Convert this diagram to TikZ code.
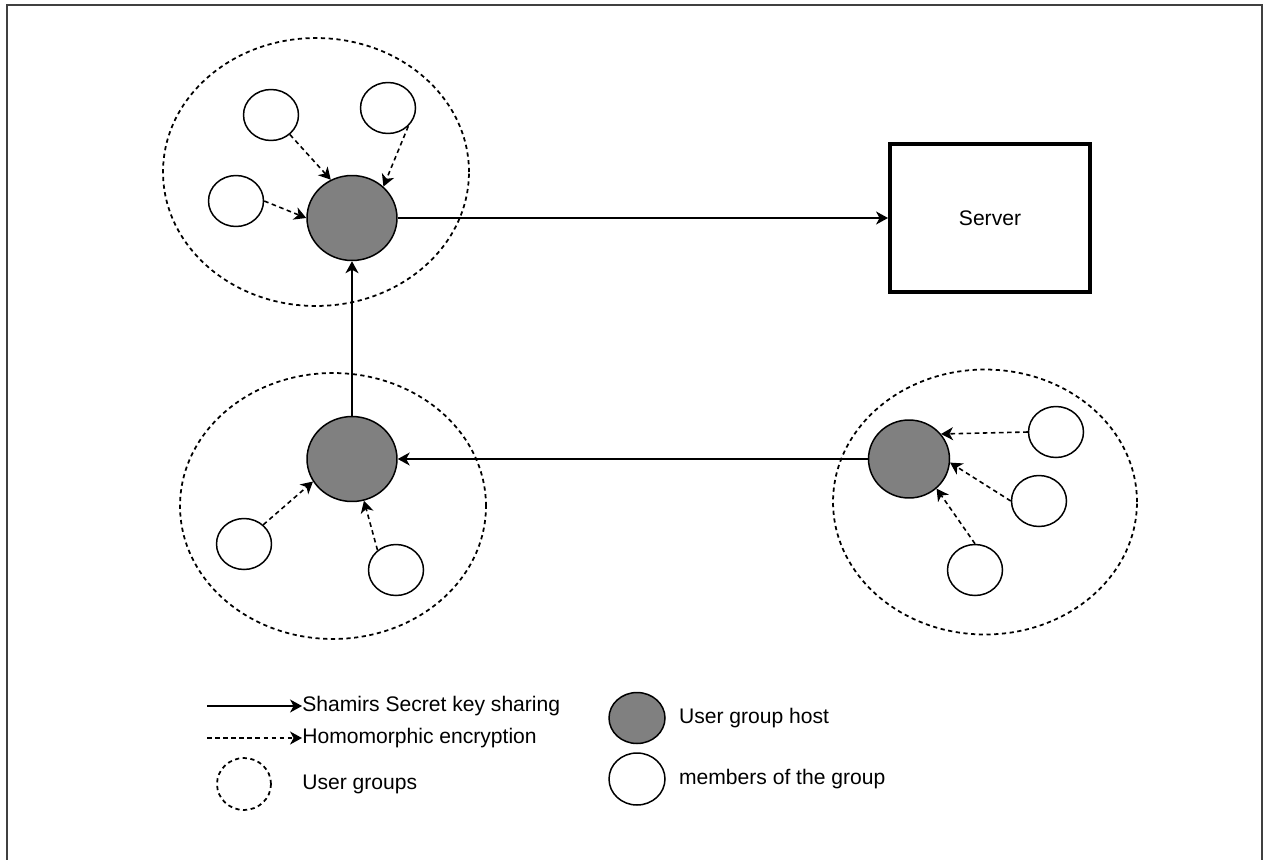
\documentclass[tikz,border=0pt]{standalone}
\usepackage{fontspec}
\setmainfont{Liberation Sans}
\usetikzlibrary{shapes.geometric,arrows.meta,positioning}

\definecolor{hostgray}{HTML}{808080}

\tikzset{
  host/.style={ellipse, draw, line width=0.85pt, fill=hostgray, minimum width=1.8cm, minimum height=1.7cm},
  member/.style={ellipse, draw, line width=0.85pt, fill=white, minimum width=1.1cm, minimum height=1.02cm},
  group/.style={ellipse, draw, line width=1pt, dash pattern=on 2.4pt off 2pt},
  server/.style={rectangle, draw, line width=2.3pt, minimum width=4.0cm, minimum height=2.96cm},
  shamir/.style={-{Stealth[length=6.8pt, width=7.4pt, inset=2pt]}, line width=0.9pt},
  homo/.style={shamir, dash pattern=on 2.6pt off 2pt},
  legendtext/.style={font=\fontsize{12pt}{14pt}\selectfont, inner sep=0pt, anchor=west}
}

\begin{document}
\begin{tikzpicture}[x=0.02cm, y=-0.02cm]
    \useasboundingbox (0,0) rectangle (1264,859);
    \draw[line width=1.2pt, draw=black!75] (7,5) rectangle (1262,880);

    % user groups
    \node[group, minimum width=6.12cm, minimum height=5.36cm] (g1) at (316,172) {};
    \node[group, minimum width=6.12cm, minimum height=5.32cm] (g2) at (333,506) {};
    \node[group, minimum width=6.08cm, minimum height=5.3cm] (g3) at (985,502) {};

    % hosts and server
    \node[host] (h1) at (352,218) {};
    \node[host] (h2) at (352,459) {};
    \node[host, minimum width=1.62cm, minimum height=1.56cm] (h3) at (909,459) {};
    \node[server, font=\fontsize{12pt}{14pt}\selectfont] (server) at (990,218) {Server};

    % members
    \node[member] (m1) at (271,115) {};
    \node[member] (m2) at (388,108) {};
    \node[member] (m3) at (236,201) {};
    \node[member] (m4) at (244,544) {};
    \node[member] (m5) at (396,570) {};
    \node[member] (m6) at (1056,432) {};
    \node[member] (m7) at (1039,501) {};
    \node[member] (m8) at (975,570) {};

    \path[shamir]
    (h1) edge (server)
    (h2) edge (h1)
    (h3) edge (h2);

    \path[homo]
    (m1.-46) edge (h1.119)
    (m2.-42) edge (h1.45)
    (m3.east) edge (h1.west)
    (m4.45) edge (h2.210)
    (m5.133) edge (h2.-74)
    (m6.west) edge (h3.38)
    (m7.west) edge (h3.-5)
    (m8.north) edge (h3.-47);

    % legend
    \coordinate (ls) at (207,706);
    \node[legendtext] (lt1) at (302,706) {Shamirs Secret key sharing};
    \coordinate (lh) at (207,738);
    \node[legendtext] (lt2) at (302,738) {Homomorphic encryption};
    \node[group, minimum width=1.08cm, minimum height=1.04cm] (lg) at (244,784) {};
    \node[legendtext] (lt3) at (302,784) {User groups};
    \node[host, minimum width=1.12cm, minimum height=1.02cm] (lhost) at (637,718) {};
    \node[legendtext, right=0.26cm of lhost] (lt4) {User group host};
    \node[member, minimum width=1.12cm, minimum height=1.04cm] (lmem) at (637,779) {};
    \node[legendtext, right=0.26cm of lmem] (lt5) {members of the group};

    \draw[shamir] (ls) -- (lt1.west);
    \draw[homo] (lh) -- (lt2.west);
\end{tikzpicture}
\end{document}
